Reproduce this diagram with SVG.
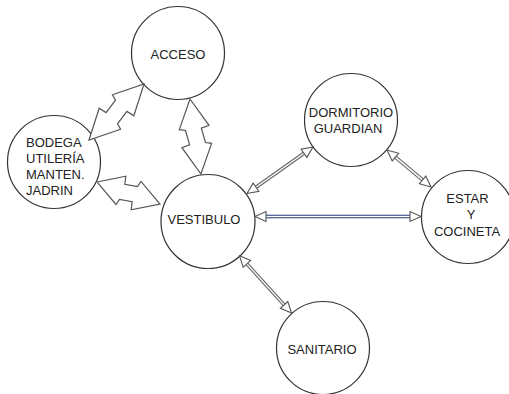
<svg xmlns="http://www.w3.org/2000/svg" width="509" height="394" viewBox="0 0 509 394">
<style>
.node circle{fill:#fff;stroke:#333;stroke-width:1.2}
.node text{font-family:"Liberation Sans",Arial,sans-serif;font-size:13px;fill:#222;text-anchor:middle}
.node text.left{text-anchor:start}
.fat{fill:#fff;stroke:#555;stroke-width:1.2;stroke-linejoin:miter}
.shaft-out{stroke:#666;stroke-width:3.6;fill:none}
.shaft-in{stroke:#fff;stroke-width:1.4;fill:none}
.blue-out{stroke:#233a7a;stroke-width:3.4;fill:none}
.head{fill:#fff;stroke:#555;stroke-width:1.1}
</style>
<rect width="509" height="394" fill="#fff"/>
<g id="nodes">
<g id="acceso" class="node"><circle cx="178" cy="53" r="46.5"/><text x="178" y="59">ACCESO</text></g>
<g id="bodega" class="node"><circle cx="54" cy="162" r="46.5"/>
<text class="left" x="26" y="147">BODEGA</text>
<text class="left" x="26" y="163">UTILERÍA</text>
<text class="left" x="26" y="179">MANTEN.</text>
<text class="left" x="26" y="195">JADRIN</text></g>
<g id="vestibulo" class="node"><circle cx="208" cy="221.5" r="47"/><text x="204" y="224">VESTIBULO</text></g>
<g id="dormitorio" class="node"><circle cx="351" cy="120" r="46.5"/><text x="351" y="117">DORMITORIO</text><text x="348" y="133">GUARDIAN</text></g>
<g id="estar" class="node"><circle cx="468" cy="217" r="46.5"/><text x="467.5" y="203">ESTAR</text><text x="471" y="219">Y</text><text x="467" y="236">COCINETA</text></g>
<g id="sanitario" class="node"><circle cx="323" cy="348" r="46.5"/><text x="322" y="354">SANITARIO</text></g>
</g>
<g id="connectors">
<path class="fat" transform="translate(89,140) rotate(-45.5)" d="M0,0 L29.8,-15 L31.5,-7 L47,-9 L48.7,-15 L78.5,0 L48.7,15 L47,7 L31.5,9 L29.8,15 Z"/>
<path class="fat" transform="translate(190,99) rotate(81.7)" d="M0,0 L28.8,-15 L30.5,-7 L45.3,-9 L47,-15 L75.8,0 L47,15 L45.3,7 L30.5,9 L28.8,15 Z"/>
<path class="fat" transform="translate(97,182) rotate(19.25)" d="M0,0 L25.3,-15 L27,-7 L39.7,-9 L41.4,-15 L66.7,0 L41.4,15 L39.7,7 L27,9 L25.3,15 Z"/>

<line class="shaft-out" x1="256" y1="187.2" x2="304" y2="153.3"/>
<line class="shaft-in" x1="256" y1="187.2" x2="304" y2="153.3"/>
<polygon class="head" points="247,193.5 258.9,191.3 253.1,183.1"/>
<polygon class="head" points="313,147 306.9,157.4 301.1,149.2"/>

<line class="shaft-out" x1="395.4" y1="157.1" x2="422.6" y2="179.9"/>
<line class="shaft-in" x1="395.4" y1="157.1" x2="422.6" y2="179.9"/>
<polygon class="head" points="387,150 392.2,160.9 398.6,153.3"/>
<polygon class="head" points="431,187 419.4,183.7 425.8,176.1"/>

<line class="blue-out" x1="266" y1="216.5" x2="410" y2="216.5"/>
<line class="shaft-in" x1="266" y1="216.5" x2="410" y2="216.5"/>
<polygon class="head" points="255,216.5 266,211.5 266,221.5"/>
<polygon class="head" points="421,216.5 410,211.5 410,221.5"/>

<line class="shaft-out" x1="246.9" y1="263.9" x2="284.1" y2="304.9"/>
<line class="shaft-in" x1="246.9" y1="263.9" x2="284.1" y2="304.9"/>
<polygon class="head" points="239.5,255.8 243.2,267.3 250.6,260.5"/>
<polygon class="head" points="291.5,313 280.4,308.3 287.8,301.5"/>
</g>
</svg>
